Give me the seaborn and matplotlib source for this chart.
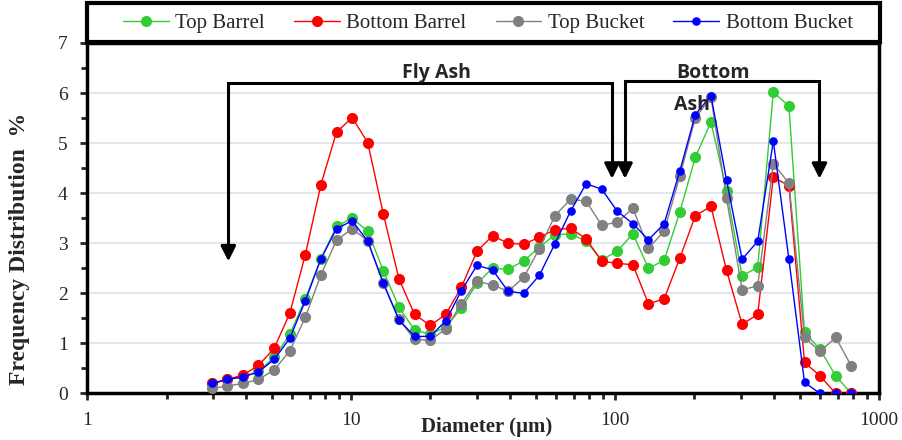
import numpy as np
import pandas as pd
import matplotlib
matplotlib.use("Agg")
import matplotlib.pyplot as plt
import matplotlib.ticker as mticker
from matplotlib.patches import Rectangle
import seaborn as sns

# ---------------- data ---------------- #
diameter = [2.97, 3.40, 3.90, 4.46, 5.11, 5.86, 6.71, 7.69, 8.81, 10.1, 11.57, 13.26, 15.19, 17.40,
            19.94, 22.85, 26.17, 29.99, 34.36, 39.37, 45.10, 51.68, 59.20, 67.83, 77.72, 89.05, 102.0,
            116.9, 133.9, 153.5, 175.9, 201.5, 230.9, 264.5, 303.0, 347.2, 397.8, 455.8, 522.2, 598.3,
            685.5, 785.4]

top_barrel = [0.20, 0.28, 0.34, 0.44, 0.72, 1.18, 1.89, 2.69, 3.34, 3.50, 3.24, 2.45, 1.72, 1.27,
              1.18, 1.33, 1.70, 2.20, 2.50, 2.48, 2.65, 2.92, 3.17, 3.19, 3.04, 2.67, 2.84, 3.19,
              2.50, 2.66, 3.62, 4.72, 5.42, 4.05, 2.35, 2.52, 6.02, 5.74, 1.22, 0.88, 0.35, 0.0]
bottom_barrel = [0.20, 0.28, 0.37, 0.56, 0.90, 1.60, 2.77, 4.17, 5.22, 5.51, 5.01, 3.58, 2.29, 1.58,
                 1.36, 1.58, 2.12, 2.84, 3.15, 3.00, 2.98, 3.12, 3.27, 3.30, 3.09, 2.64, 2.60, 2.57,
                 1.79, 1.89, 2.70, 3.55, 3.74, 2.46, 1.38, 1.58, 4.32, 4.15, 0.62, 0.35, 0.0, 0.0]
top_bucket = [0.10, 0.15, 0.20, 0.28, 0.47, 0.85, 1.52, 2.37, 3.06, 3.29, 3.05, 2.20, 1.48, 1.08,
              1.06, 1.29, 1.79, 2.24, 2.17, 2.04, 2.32, 2.89, 3.55, 3.88, 3.84, 3.36, 3.42, 3.70,
              2.90, 3.24, 4.34, 5.50, 5.92, 3.90, 2.07, 2.15, 4.59, 4.20, 1.12, 0.84, 1.12, 0.55]
bottom_bucket = [0.20, 0.28, 0.33, 0.43, 0.68, 1.10, 1.85, 2.69, 3.29, 3.45, 3.04, 2.20, 1.47, 1.14,
                 1.14, 1.45, 2.05, 2.56, 2.47, 2.04, 2.00, 2.36, 2.99, 3.64, 4.19, 4.08, 3.64, 3.39,
                 3.07, 3.39, 4.44, 5.57, 5.95, 4.26, 2.68, 3.04, 5.04, 2.68, 0.22, 0.0, 0.0, 0.0]

series_names = ["Top Barrel", "Bottom Barrel", "Top Bucket", "Bottom Bucket"]
x_ticks = [1, 10, 100, 1000]
x_tick_labels = ["1", "10", "100", "1000"]

# ---------------- style ---------------- #
sns.set_style("ticks")
plt.rcParams['font.family'] = ['Liberation Serif', 'DejaVu Serif']

colors = {"Top Barrel": "#32cd32", "Bottom Barrel": "#ff0000",
          "Top Bucket": "#808080", "Bottom Bucket": "#0000ff"}
msizes = {"Top Barrel": 8, "Bottom Barrel": 8, "Top Bucket": 8, "Bottom Bucket": 6.2}

df = pd.DataFrame({"Diameter": diameter,
                   "Top Barrel": top_barrel, "Bottom Barrel": bottom_barrel,
                   "Top Bucket": top_bucket, "Bottom Bucket": bottom_bucket})

fig = plt.figure(figsize=(9.02, 4.4), dpi=100)
ax = fig.add_axes([0.0965, 0.1057, 0.878, 0.7966])

for name in series_names:
    sns.lineplot(data=df, x="Diameter", y=name, ax=ax, color=colors[name], marker="o",
                 markersize=msizes[name], markeredgewidth=0, linewidth=1.0, label=name,
                 legend=False, zorder=3)

ax.set_xscale("log")
ax.set_xlim(1, 1000)
ax.set_ylim(0, 7)
ax.xaxis.set_major_locator(mticker.FixedLocator(x_ticks))
ax.xaxis.set_major_formatter(mticker.FixedFormatter(x_tick_labels))
ax.xaxis.set_minor_locator(mticker.LogLocator(base=10, subs=np.arange(2, 10)))
ax.xaxis.set_minor_formatter(mticker.NullFormatter())
ax.yaxis.set_major_locator(mticker.MultipleLocator(1))
ax.yaxis.set_minor_locator(mticker.MultipleLocator(0.5))

ax.tick_params(axis="both", which="major", direction="out", length=5, width=2, labelsize=14)
ax.tick_params(axis="both", which="minor", direction="out", length=4, width=2)
ax.tick_params(axis="y", which="major", pad=9)
ax.tick_params(axis="x", which="major", pad=8)

ax.yaxis.grid(True, color="#dde1ea", linewidth=1.2, zorder=0)
ax.set_axisbelow(True)
for sp in ax.spines.values():
    sp.set_visible(True)
    sp.set_color("black")
    sp.set_linewidth(2.5)

ax.set_xlabel("Diameter (µm)", fontsize=15, fontweight="bold")
ax.set_ylabel("Frequency Distribution  %", fontsize=17, fontweight="bold")
ax.xaxis.set_label_coords(0.504, -0.066)
ax.yaxis.set_label_coords(-0.072, 0.414)

# ---------------- bracket arrows ---------------- #
def bracket(x0, x1, ytop, y0, y1):
    ax.plot([x0, x0, x1, x1], [y0 + 0.27, ytop, ytop, y1 + 0.27], color="black", lw=2.2,
            solid_joinstyle="miter", zorder=4)
    for xx, yy in [(x0, y0), (x1, y1)]:
        ax.annotate("", xy=(xx, yy), xytext=(xx, yy + 0.3),
                    arrowprops=dict(arrowstyle="-|>,head_length=0.9,head_width=0.45",
                                    color="black", lw=2.2, shrinkA=0, shrinkB=0), zorder=4)

bracket(3.43, 97.4, 6.21, 2.64, 4.29)
bracket(109.1, 595, 6.25, 4.29, 4.29)

ann_font = dict(family=["Open Sans", "DejaVu Sans"], fontweight="bold", fontsize=14)
ax.text(21.1, 6.41, "Fly Ash", ha="center", va="center", zorder=5, **ann_font)
ax.text(235, 6.41, "Bottom", ha="center", va="center", zorder=5, **ann_font)
ax.text(196, 5.77, "Ash", ha="center", va="center", zorder=5, **ann_font)

# ---------------- legend box on top ---------------- #
handles, labels = ax.get_legend_handles_labels()
leg = fig.legend(handles, labels, loc="center", ncol=4, bbox_to_anchor=(0.541, 0.9477),
                 frameon=False, fontsize=15, handlelength=2.2, handletextpad=0.3,
                 columnspacing=1.4, borderaxespad=0)
fig.patches.append(Rectangle((0.0965, 0.9045), 0.879, 0.0886, transform=fig.transFigure,
                             fill=False, edgecolor="black", linewidth=3, zorder=5))

fig.savefig("out.png", dpi=100)
